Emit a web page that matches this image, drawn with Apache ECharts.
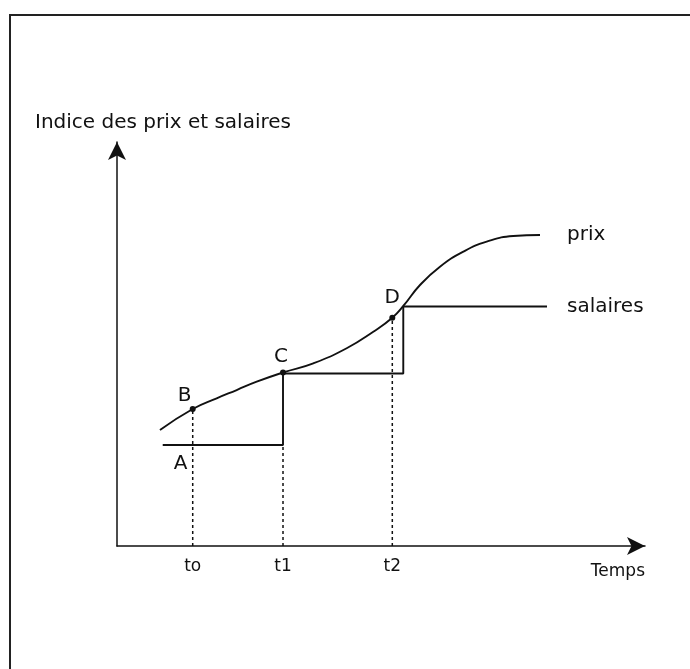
<!DOCTYPE html>
<html><head><meta charset="utf-8">
<script src="https://cdn.jsdelivr.net/npm/echarts@6/dist/echarts.min.js"></script>
<style>
html,body{margin:0;padding:0;background:#fff;}
#chart{position:absolute;left:0;top:0;width:690px;height:669px;}
#frameTop{position:absolute;left:9px;top:14px;width:681px;height:0;border-top:2px solid #222;pointer-events:none;}
#frameLeft{position:absolute;left:9px;top:14px;width:0;height:655px;border-left:2px solid #222;pointer-events:none;}
</style></head><body>
<div id="chart"></div><div id="frameTop"></div><div id="frameLeft"></div>
<script>
// ---- data (arbitrary index units, x: time 0-100, y: index 0-100) ----
const yTitle = 'Indice des prix et salaires';
const xTitle = 'Temps';
const tickLabels = ['to', 't1', 't2'];
const tickValues = [14.34, 31.44, 52.14];

const priceName = 'prix';
const priceX = [8.14, 14.34, 18.88, 22.67, 26.46, 31.44, 37.18, 43.50, 48.54, 52.14, 54.22, 57.39, 61.17, 65.59, 70.02, 75.06, 80.11];
const priceY = [28.71, 33.91, 36.56, 38.61, 40.67, 42.95, 45.22, 48.94, 53.04, 56.51, 59.41, 64.60, 69.13, 72.85, 75.32, 76.73, 76.98];

const wageName = 'salaires';
const wageX = [8.66, 31.44, 31.44, 54.22, 54.22, 81.44];
const wageY = [25.0, 25.0, 42.70, 42.70, 59.28, 59.28];

const pointNames = ['B', 'C', 'D'];
const pointX = [14.34, 31.44, 52.14];
const pointY = [33.91, 42.95, 56.51];

const noteName = 'A';
const noteX = 12.03;
const noteY = 25.0;

const guideTop = [33.91, 25.0, 56.51];

// ---- chart ----
const FONT = 'DejaVu Sans';
const INK = '#111';
const labelPlace = {
  B: { position: 'top', offset: [-8, 0] },
  C: { position: 'top', offset: [-2, -2.5] },
  D: { position: 'top', offset: [0, -6.5] },
  A: { position: 'bottom', offset: [0, 9] }
};

const zip = (xs, ys) => xs.map((x, i) => [x, ys[i]]);

const guideSeries = tickValues.map((x, i) => ({
  type: 'line', silent: true, symbol: 'none',
  data: [[x, 0], [x, guideTop[i]]],
  lineStyle: { color: INK, width: 1.5, type: [3, 3] },
  z: 1
}));

const pointData = pointNames.map((n, i) => ({
  name: n, value: [pointX[i], pointY[i]],
  label: labelPlace[n]
}));
pointData.push({ name: noteName, value: [noteX, noteY], symbolSize: 0,
  label: labelPlace[noteName] });

const chart = echarts.init(document.getElementById('chart'), null, { renderer: 'canvas' });
chart.setOption({
  animation: false,
  backgroundColor: '#fff',
  title: {
    text: yTitle, left: 35, top: 113, padding: 0,
    textStyle: { fontFamily: FONT, fontSize: 20, fontWeight: 'normal', color: INK }
  },
  grid: { left: 117, top: 142, right: 45, bottom: 123, containLabel: false },
  xAxis: {
    type: 'value', min: 0, max: 100,
    name: xTitle, nameLocation: 'end', nameGap: 0,
    nameTextStyle: { fontFamily: FONT, fontSize: 17, color: INK, align: 'right', verticalAlign: 'top', padding: [17, 0, 0, 0] },
    axisLine: { show: true, symbol: ['none', 'arrow'], symbolSize: [13.5, 18], lineStyle: { color: INK, width: 1.5 } },
    axisTick: { show: false },
    splitLine: { show: false },
    axisLabel: {
      customValues: tickValues,
      formatter: v => tickLabels[tickValues.indexOf(v)],
      margin: 12, fontFamily: FONT, fontSize: 17, color: INK
    }
  },
  yAxis: {
    type: 'value', min: 0, max: 100,
    axisLine: { show: true, symbol: ['none', 'arrow'], symbolSize: [13.5, 18], lineStyle: { color: INK, width: 1.5 } },
    axisTick: { show: false },
    splitLine: { show: false },
    axisLabel: { show: false }
  },
  series: [
    ...guideSeries,
    {
      name: priceName, type: 'line', symbol: 'none', smooth: 0.5,
      data: zip(priceX, priceY),
      lineStyle: { color: INK, width: 1.9 },
      endLabel: { show: true, formatter: priceName, distance: 27, fontFamily: FONT, fontSize: 20, color: INK },
      z: 3
    },
    {
      name: wageName, type: 'line', symbol: 'none',
      data: zip(wageX, wageY),
      lineStyle: { color: INK, width: 1.9 },
      endLabel: { show: true, formatter: wageName, distance: 20, fontFamily: FONT, fontSize: 20, color: INK },
      z: 3
    },
    {
      type: 'scatter', symbol: 'circle', symbolSize: 6,
      itemStyle: { color: INK, opacity: 1 },
      data: pointData,
      label: { show: true, distance: 0, formatter: p => p.name, fontFamily: FONT, fontSize: 20,
               color: INK, opacity: 1, textBorderWidth: 0, fontWeight: 'normal' },
      z: 4
    }
  ]
});
</script></body></html>
